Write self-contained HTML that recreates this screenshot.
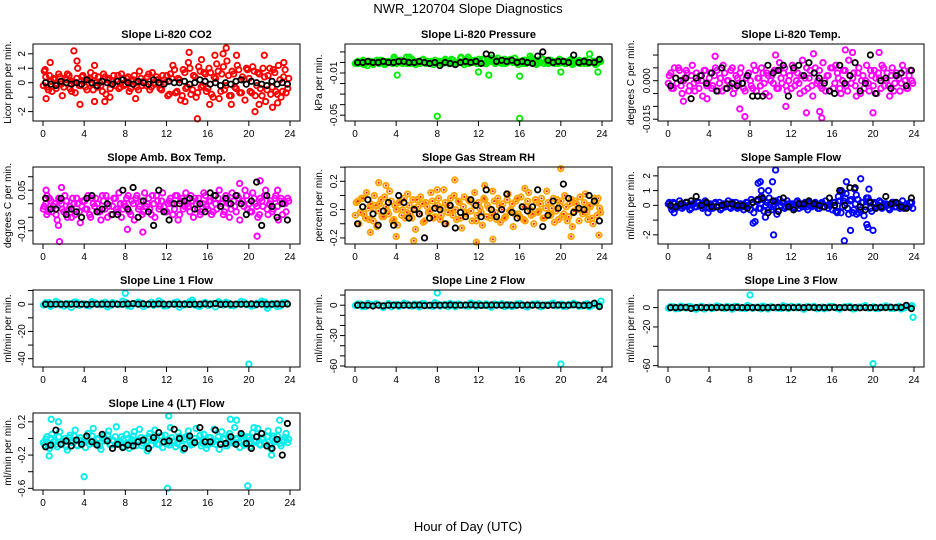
<!DOCTYPE html>
<html><head><meta charset="utf-8"><style>
html,body{margin:0;padding:0;background:#fff;}
svg{display:block;font-family:"Liberation Sans",sans-serif;}
</style></head><body>
<svg id="chart" width="936" height="540" viewBox="0 0 936 540" xmlns="http://www.w3.org/2000/svg">
<text x="468" y="13" font-size="13" text-anchor="middle">NWR_120704  Slope Diagnostics</text>
<text x="468" y="531" font-size="13" text-anchor="middle">Hour of Day (UTC)</text>
</svg>
<script>
// ---- data (scaled units, see scale per panel) ----
const xTicks = [0,4,8,12,16,20,24];
const co2Band = [8,-3,5,-6,2,-1,4,-9,3,6,-4,1,-7,10,-2,5,-3,2,7,-5,0,4,-2,6,-8,3,-1,5,2,-4,6,-2,3,-6,1,5,-3,8,-2,0,4,-5,7,-1,2,-4,5,0,-9,6,12,-7,3,-12,9,-4,14,-8,5,-10,11,-3,7,-6,10,-8,4,13,-11,6,-5,15,-9,8,-3,12,-7,4,-12,9,-6,11,-9,7,-4,10,-13,5,-8,9,-6,12,-10,4,-7,3];
const co2Band2 = [-2,4,-5,1,3,-4,6,-1,-3,2,5,-6,0,3,-2,4,1,-5,3,-1,5,-3,0,-6,4,2,-4,1,-2,5,-3,3,-1,4,-4,2,0,-5,3,1,-2,6,-3,0,4,-1,-5,2,5,-8,3,9,-6,2,-9,7,-3,10,-5,4,-7,8,-2,6,-4,7,-10,3,8,-6,11,-2,5,-9,6,-4,9,-7,2,10,3,-7,8,-2,6,-9,4,-5,10,-3,7,-8,2,-6,9,-4];
const co2Black = [0,-1,-2,1,0,-1,0,-1,2,0,-2,1,0,-1,1,2,0,-1,1,0,-1,2,0,-1,1,0,0,1,-1,0,2,1,-1,0,-2,0,-1,1,2,-1,1,0,-1,-2,1,-1,0,-1];
const co2OutX = [0.3,0.7,3,3.3,3.6,5,5,6,6.5,9,13.8,14.2,15,15.4,16.2,16.7,17.8,18.3,18.8,20.6,21.5,21,22.3,23.4,22.8,17.5,0.2];
const co2OutY = [-1.1,1.4,2.2,1.5,-1.5,1.2,-1.3,-1.3,-1,-1.1,-1.3,2.1,-2.5,1.6,-1.5,1.9,2.4,-1.5,1.9,-2,1.9,-1.5,-1.7,1.4,-1.4,2,0.9];
const presBand = [0,-1,1,-2,0,1,-1,0,2,-1,0,-2,1,0,-1,1,0,2,-1,0,1,-1,0,-2,1,0,3,-1,0,1,-2,0,1,-1,0,2,-1,3,0,-1,1,0,-2,3,1,0,2,-1,1,3,-1,0,2,1,-1,4,0,2,-1,1,3,0,1,-2,0,2,-1,1,4,0,-2,1,3,-1,0,2,1,-1,0,3,0,-1,1,2,-2,0,1,-1,0,2,-1,0,1,-2,0,1];
const presBand2 = [-1,1,0,2,-1,0,1,-2,0,1,2,0,-1,1,0,3,-1,0,2,1,-1,0,3,1,0,-1,2,0,1,-1,0,2,0,1,-1,3,1,0,2,-1,0,4,1,0,-1,2,0,1,3,0,2,-1,1,4,0,2,1,-1,3,0,2,1,4,0,1,-1,2,0,3,1,-1,2,0,3,1,-1,2,0,1,-1,2,0,-1,1,3,-1,0,2,1,-1,0,3,0,1,-1,2];
const presBlack = [0,0,1,0,0,1,0,0,1,1,0,0,1,0,-1,0,-3,0,-1,-2,0,1,0,1,-1,8,7,1,2,1,2,0,1,0,-1,6,10,2,0,1,1,0,7,0,1,0,0,3];
const presOutX = [3.8,4.1,5,5.3,8,16,24,12,13,16,20,22.8,17,23.6,10.3,11,1.2];
const presOutY = [5,-12,5,5,-51,-53,-58,-9,-12,-13,-9,8,6,-9,5,5,-3];
const tempBand = [2,-3,5,-1,4,-5,1,3,-2,6,-4,0,2,-6,4,-1,3,-2,5,-4,1,6,-3,0,4,-5,2,-1,5,-3,1,3,-2,6,-4,1,5,-1,3,-6,2,4,-3,7,-1,5,-4,2,6,-2,3,-5,8,1,-3,4,-6,5,0,-2,7,-4,2,5,-3,6,1,-5,4,-2,8,-1,3,-6,5,0,-3,6,-4,2,4,-5,1,6,-2,3,-6,5,-1,2,-4,6,0,-3,4,-1];
const tempBand2 = [-1,3,-3,1,5,-2,0,4,-4,2,-1,3,-3,0,4,-2,1,-3,2,4,-1,-4,3,0,-2,5,-3,1,3,-1,-4,2,0,-3,4,1,-2,3,-5,2,0,-1,4,-3,1,3,-2,0,-3,4,0,-1,2,-4,5,1,-2,3,-1,4,-3,0,2,-4,5,-1,3,-3,0,4,-4,2,1,-2,3,-5,2,0,-1,4,-2,1,3,-3,5,0,-2,2,-4,3,1,-1,4,-3,2,0];
const tempBlack = [-2,1,0,1,-7,1,2,-1,3,-4,5,-3,-1,-2,-1,2,-6,-6,-6,6,3,4,6,-6,5,6,2,7,3,1,-1,-4,-5,6,-1,2,7,-4,-1,10,-5,0,1,-3,2,3,-2,4];
const tempOutX = [7.5,15,14.8,20,7,13.5,17.3,18,20.6,4.6,10.5,14.2,1.5,3.8,11.5];
const tempOutY = [-14,-14.5,-12,-12.5,-11,-12.5,12,11,11,9.5,10,10.5,-8,-7,-10];
const ambBand = [-1,-4,2,-3,0,-6,1,-2,3,-5,-1,2,-4,0,-7,1,-2,3,-5,0,2,-3,-6,1,3,-1,-4,2,-2,4,-5,0,2,-3,1,-6,3,-1,-4,4,0,-2,3,-5,1,-1,4,-3,0,2,-4,3,-6,1,-2,4,-1,3,-5,0,2,-3,4,-1,1,-4,3,-2,5,0,-3,2,-5,4,-1,3,-6,1,5,-2,-3,4,0,-5,2,-1,5,-4,1,-2,3,-6,2,0,-3,1];
const ambBand2 = [-2,0,-3,1,-1,-4,2,0,-3,1,-2,-5,0,2,-3,-1,1,-2,-4,2,-1,0,-3,3,-2,-5,1,-1,2,-3,0,-2,-1,3,-4,0,2,-2,1,-3,-1,2,-4,0,3,-2,1,-1,-3,1,0,-2,3,-4,2,-1,0,-3,1,2,-2,-4,0,3,-2,1,-3,0,2,-1,-4,3,0,-2,1,-3,2,0,-1,3,0,-3,2,-1,-4,1,3,-2,0,-3,2,-1,1,-4,0,2];
const ambBlack = [2,-2,-2,2,-4,-2,-3,-5,2,3,-3,-2,0,-4,-4,5,-2,6,-5,1,-3,-8,5,-3,-6,0,0,1,2,-2,0,-3,4,3,-1,2,0,3,0,-4,1,8,-8,3,-1,-5,0,-6];
const ambOutX = [1.6,0.3,1.8,20.8,19.1,21.1,9.7,1.5,8.2,0.4,22.8];
const ambOutY = [-14,5,6,-12,7.5,8.5,-10.5,-8,-9.5,3,5];
const rhBand = [5,-10,8,-3,12,-7,2,10,-12,4,-5,9,-1,13,-8,3,-11,6,0,-6,11,-3,7,-14,2,9,-9,5,-2,12,-6,1,8,-4,14,-10,3,-1,10,-7,5,-13,9,-2,6,-8,12,-4,1,-11,7,3,-6,13,-2,8,-9,4,-5,11,0,-12,6,-3,9,-7,2,12,-4,-10,5,-1,8,-6,13,-3,1,-9,7,3,-5,10,-8,4,-12,6,0,9,-3,11,-7,2,-10,5,8,-2];
const rhBand2 = [-4,6,-2,8,-6,1,4,-8,3,-1,7,-5,2,-3,6,-7,0,5,-4,8,-2,3,-6,1,7,-3,4,-8,2,-1,6,-5,3,-7,1,5,-2,8,-4,0,6,-6,2,-3,7,-1,4,-8,5,-2,8,-5,1,-4,6,-7,3,0,-6,7,-1,4,-3,8,-5,2,-8,6,0,-3,7,-2,4,-6,1,5,-4,8,-1,-7,6,-3,2,-5,7,-1,4,-8,0,5,-2,3,-6,8,-4,1];
const rhBlack = [-10,2,7,-3,-11,-1,5,-11,10,5,-6,0,-3,-20,-6,1,0,-10,3,-13,-2,-5,7,3,-5,14,0,-5,0,11,-2,-6,2,-1,2,14,-12,-4,6,1,18,8,-2,1,0,10,6,-8];
const rhOutX = [20,11.8,5.7,13.4,9.7,2.3,4,1.5,21,23.7,3,8,12.6,16.5];
const rhOutY = [29,-23,-22,-21,21,19,-19,-16,-19,-18,17,14,17,15];
const sampBand = [2,-3,1,-1,3,-2,0,2,-3,1,-1,2,0,-2,3,-1,1,-2,2,0,-3,1,-1,3,-2,0,2,-1,1,-3,2,0,4,-5,3,-2,6,-4,2,5,-3,1,-6,4,2,-2,3,-1,1,-2,3,0,-1,2,-3,1,0,2,-2,1,-1,3,-2,0,2,-4,6,-5,3,8,-6,4,-3,7,-5,2,-7,5,3,-4,2,-1,3,-2,1,0,-3,2,-1,1,-2,3,0,-1,2,-2];
const sampBand2 = [1,-1,2,-2,0,1,-1,2,0,-2,1,-1,2,0,-1,1,-2,0,1,-1,2,-2,0,1,-1,2,0,-2,1,-1,0,2,-3,2,-1,3,-2,4,0,-3,2,-1,3,-4,0,2,-1,1,0,-1,2,-2,1,0,-1,2,-1,0,1,-2,2,-1,0,1,-3,2,-4,3,-1,5,-2,3,-5,1,4,-3,2,-1,5,-2,1,-2,0,2,-1,1,-2,0,2,-1,1,0,-2,1,-1,2];
const sampBlack = [0,-1,1,2,3,6,0,2,-1,-1,0,1,1,0,0,-2,2,4,5,-5,3,-4,5,-1,-3,1,1,3,1,0,-1,5,0,10,0,12,12,-1,-3,2,-2,-1,6,1,2,-1,-2,5];
const sampOutX = [8.3,8.5,8.8,9,9.1,9.8,10.2,10.5,10.3,9.5,16.9,17.2,17.4,17.8,18.2,18.8,19.4,19.5,19.6,20,18.4,16.5,17,0.6,3.9];
const sampOutY = [-1.2,-1.1,1.5,1.6,1,1,1.6,2.4,-2,-0.8,1,-2.4,1.6,-1.7,1.1,1.8,-1.3,-1.5,1.1,-1.7,-0.6,-0.5,0.9,-0.5,-0.5];
const l1Band = [5,-8,10,-3,2,-12,7,0,-5,9,-1,4,-10,6,-2,11,-6,3,8,-9,1,-4,12,-7,0,5,-11,2,9,-3,-8,6,1,-10,4,7,-5,0,10,-2,-7,3,11,-6,2,-9,5,0];
const l1Band2 = [-3,6,-1,4,-7,2,8,-4,1,-6,5,-2,7,-5,3,-1,6,-8,2,4,-3,7,-1,5,-6,1,8,-4,-2,6,-7,3,-5,2,9,-3,4,-6,1,7,-2,-5,3,8,-4,1,-7,6];
const l1Black = [0,0,0,0,0,0,0,0,-1,0,0,0,0,0,0,0,1,2,0,1,0,0,1,0,0,0,0,0,-1,0,0,1,0,2,-1,0,0,0,0,0,1,-1,0,0,0,1,0,1];
const l1OutX = [8,20,14.5,21.8];
const l1OutY = [8,-44,3,-3];
const l2Band = [6,-7,9,-2,3,-11,8,1,-6,10,-2,5,-9,7,-1,12,-5,4,9,-8,2,-3,11,-6,1,6,-10,3,8,-4,-7,7,2,-9,5,8,-4,1,11,-1,-6,4,10,-5,3,-8,6,1];
const l2Band2 = [-2,5,-6,3,7,-4,1,-8,4,-1,6,-5,2,8,-3,-6,5,1,-7,3,6,-2,-5,4,8,-1,-4,6,2,-7,3,-3,7,-5,1,4,-8,2,6,-3,5,-6,1,3,-4,7,-2,4];
const l2Black = [0,0,0,-4,0,-3,0,0,0,0,0,0,1,-2,0,0,0,0,1,0,0,1,2,0,-1,0,1,0,0,1,0,0,0,1,0,0,0,-1,0,1,0,0,2,0,-1,0,10,-7];
const l2OutX = [8,20,23.9];
const l2OutY = [12,-58,4];
const l3Band = [5,-6,8,-2,4,-9,7,0,-5,9,-1,6,-8,6,-2,11,-4,3,8,-7,2,-3,10,-5,0,6,-9,3,7,-3,-6,6,1,-8,4,7,-5,2,10,-1,-5,3,9,-4,2,-7,5,0];
const l3Band2 = [-3,4,-5,2,6,-2,1,-7,3,-1,5,-4,2,7,-3,-5,4,1,-6,3,5,-2,-4,4,7,-1,-3,5,2,-6,3,-2,6,-4,1,4,-7,2,5,-3,4,-5,1,3,-4,6,-2,3];
const l3Black = [0,0,0,1,-4,0,0,0,0,0,0,0,0,1,0,0,0,0,-1,0,0,1,0,0,0,0,0,1,0,0,0,0,1,0,0,0,0,-1,0,0,0,0,0,2,0,1,12,-5];
const l3OutX = [8,20,23.9,23.8];
const l3OutY = [13,-58,-10,2];
const l4Band = [-8,2,-12,5,-3,-10,8,-6,0,-14,4,-2,10,-9,1,-5,-11,6,-4,12,-7,0,-13,3,-1,9,-8,-3,14,-6,2,-10,5,-12,-1,8,-4,11,-9,0,-15,6,-2,10,-7,3,-11,4,-6,13,-3,-10,7,-1,-14,2,9,-8,-4,12,-2,-9,5,-12,1,-6,11,-3,-13,8,0,-9,6,-5,13,-1,-11,4,-7,2,-10,7,-4,12,-8,1,-6,9,-12,3,-2,10,-9,-4,6,-1];
const l4Band2 = [-5,-1,-9,0,-4,-7,2,-6,-3,-10,1,-5,3,-8,-2,-6,-4,1,-7,3,-5,-1,-9,0,-3,4,-8,-2,2,-6,-4,-1,-7,0,-5,3,-9,-2,1,-6,-4,2,-8,-3,0,-7,3,-5,-2,-8,1,-4,-6,2,-9,-1,3,-5,-7,0,-3,4,-6,-2,-8,1,-4,-7,2,-5,-1,-9,3,-3,-6,0,-4,2,-8,-2,1,-6,-3,3,-7,-1,-5,2,-8,0,-4,3,-6,-2,1,-5];
const l4Black = [-10,-8,10,-7,-3,-9,-2,-7,3,-4,-8,5,-3,-12,-7,-11,-8,-9,-4,-2,-12,1,7,-4,-3,11,0,-12,3,-5,13,-4,-4,10,-7,-6,2,-7,6,-6,-12,2,6,-9,-12,-1,-20,18];
const l4OutX = [4,12.1,19.9,0.6,22.2,12.2,0.8,18.2,18.8,23,1.5,20.5];
const l4OutY = [-0.46,-0.6,-0.57,-0.21,-0.2,0.27,0.23,0.23,0.22,0.22,0.2,0.13];

// ---- layout ----
const cols = [{l:33,r:300},{l:345,r:612},{l:658,r:924}];
const colYlab = [8,319,631];
const rows = [44,167,290,413];
const H = 77;

const panels = [
 {name:'co2',title:'Slope Li-820 CO2',ylab:'Licor ppm per min.',c:0,r:0,dom:[-2.65,2.68],ticks:[2,1,0,-1,-2],labels:['2','1','0','','-2'],band:co2Band,band2:co2Band2,black:co2Black,ox:co2OutX,oy:co2OutY,s:0.1,os:1,col:'#ff0000'},
 {name:'pressure',title:'Slope Li-820 Pressure',ylab:'kPa per min.',c:1,r:0,dom:[-0.0555,0.0175],ticks:[0.01,0,-0.01,-0.02,-0.03,-0.04,-0.05],labels:['','','-0.01','','','','-0.05'],band:presBand,band2:presBand2,black:presBlack,ox:presOutX,oy:presOutY,s:0.001,os:0.001,col:'#00ee00'},
 {name:'temp',title:'Slope Li-820 Temp.',ylab:'degrees C per min.',c:2,r:0,dom:[-0.0157,0.0143],ticks:[0.01,0.005,0,-0.005,-0.01,-0.015],labels:['','','0.000','','','-0.015'],band:tempBand,band2:tempBand2,black:tempBlack,ox:tempOutX,oy:tempOutY,s:0.001,os:0.001,col:'#ff00ff'},
 {name:'amb-box-temp',title:'Slope Amb. Box Temp.',ylab:'degrees C per min.',c:0,r:1,dom:[-0.149,0.136],ticks:[0.1,0.05,0,-0.05,-0.1],labels:['','0.05','','','-0.10'],band:ambBand,band2:ambBand2,black:ambBlack,ox:ambOutX,oy:ambOutY,s:0.01,os:0.01,col:'#ff00ff'},
 {name:'gas-stream-rh',title:'Slope Gas Stream RH',ylab:'percent per min.',c:1,r:1,dom:[-0.243,0.301],ticks:[0.3,0.2,0.1,0,-0.1,-0.2],labels:['','0.2','','0.0','','-0.2'],band:rhBand,band2:rhBand2,black:rhBlack,ox:rhOutX,oy:rhOutY,s:0.01,os:0.01,col:'#ffa500',dot:'#ff2000'},
 {name:'sample-flow',title:'Slope Sample Flow',ylab:'ml/min per min.',c:2,r:1,dom:[-2.62,2.6],ticks:[2,1,0,-1,-2],labels:['2','1','0','','-2'],band:sampBand,band2:sampBand2,black:sampBlack,ox:sampOutX,oy:sampOutY,s:0.1,os:1,col:'#0000ff'},
 {name:'line1-flow',title:'Slope Line 1 Flow',ylab:'ml/min per min.',c:0,r:2,dom:[-46.1,10.4],ticks:[10,0,-10,-20,-30,-40],labels:['','0','','-20','','-40'],band:l1Band,band2:l1Band2,black:l1Black,ox:l1OutX,oy:l1OutY,s:0.2,os:1,col:'#00eeee'},
 {name:'line2-flow',title:'Slope Line 2 Flow',ylab:'ml/min per min.',c:1,r:2,dom:[-61,15],ticks:[10,0,-10,-20,-30,-40,-50,-60],labels:['','0','','','-30','','','-60'],band:l2Band,band2:l2Band2,black:l2Black,ox:l2OutX,oy:l2OutY,s:0.2,os:1,col:'#00eeee'},
 {name:'line3-flow',title:'Slope Line 3 Flow',ylab:'ml/min per min.',c:2,r:2,dom:[-61.4,18.2],ticks:[0,-20,-40,-60],labels:['0','-20','','-60'],band:l3Band,band2:l3Band2,black:l3Black,ox:l3OutX,oy:l3OutY,s:0.2,os:1,col:'#00eeee'},
 {name:'line4-flow',title:'Slope Line 4 (LT) Flow',ylab:'ml/min per min.',c:0,r:3,dom:[-0.62,0.306],ticks:[0.2,0,-0.2,-0.4,-0.6],labels:['0.2','','-0.2','','-0.6'],band:l4Band,band2:l4Band2,black:l4Black,ox:l4OutX,oy:l4OutY,s:0.01,os:1,col:'#00eeee'}
];

const NS = 'http://www.w3.org/2000/svg';
const svg = document.getElementById('chart');
function mk(tag, attrs, parent){
  const e = document.createElementNS(NS, tag);
  for (const k in attrs) e.setAttribute(k, attrs[k]);
  (parent||svg).appendChild(e);
  return e;
}

panels.forEach(p => {
  const L = cols[p.c].l, R = cols[p.c].r, T = rows[p.r], B = T + H;
  const x0 = L + 10, x1 = R - 10;
  const xs = h => x0 + (h/24)*(x1-x0);
  const ys = v => B - (v - p.dom[0])/(p.dom[1]-p.dom[0])*H;
  const g = mk('g', {});
  
  

  const t = mk('text', {x:(L+R)/2, y:T-6, 'font-size':11, 'font-weight':'bold', 'text-anchor':'middle'}, g);
  t.textContent = p.title;
  
  

  const yl = mk('text', {x:0, y:0, 'font-size':10, 'text-anchor':'middle', transform:`translate(${colYlab[p.c]+3},${(T+B)/2}) rotate(-90)`}, g);
  yl.textContent = p.ylab;
  
  

  const pts = mk('g', {}, g);
  
  
  function dot(h, v, color, cls){
    const y = ys(v);
    if (y < T-2 || y > B+2) return;
    const c = mk('circle', {cx:xs(h).toFixed(1), cy:y.toFixed(1), r:2.7, fill:'none', stroke:color, 'stroke-width':1.9}, pts);
    
    
    if (p.dot) {
      const d = mk('circle', {cx:xs(h).toFixed(1), cy:y.toFixed(1), r:1.1, fill:p.dot}, pts);
      
      
    }
  }
  p.band.forEach((v,i) => dot((i+0.5)*24/p.band.length, v*p.s, p.col, p.name+'-point'));
  p.band2.forEach((v,i) => dot((i+0.1)*24/p.band2.length, v*p.s, p.col, p.name+'-point'));
  p.ox.forEach((h,i) => dot(h, p.oy[i]*p.os, p.col, p.name+'-outlier'));
  p.black.forEach((v,i) => {
    const y = ys(v*p.s); if (y<T-2||y>B+2) return;
    const c = mk('circle', {cx:xs((i+0.5)*24/p.black.length).toFixed(1), cy:y.toFixed(1), r:2.7, fill:'none', stroke:'#000', 'stroke-width':1.8}, pts);
    
    
  });

  const box = mk('rect', {x:L, y:T, width:R-L, height:H, fill:'none', stroke:'#000', 'stroke-width':1}, g);
  
  

  xTicks.forEach(h => {
    mk('line', {x1:xs(h), x2:xs(h), y1:B, y2:B+5, stroke:'#000'}, g);
    const tl = mk('text', {x:xs(h), y:B+16, 'font-size':10, 'text-anchor':'middle'}, g);
    tl.textContent = h;
    
    
  });
  p.ticks.forEach((v,i) => {
    const y = ys(v);
    if (y < T-1 || y > B+1) return;
    mk('line', {x1:L-5, x2:L, y1:y, y2:y, stroke:'#000'}, g);
    if (p.labels[i]) {
      const tl = mk('text', {x:0, y:0, 'font-size':10, 'text-anchor':'middle', transform:`translate(${L-8},${y}) rotate(-90)`}, g);
      tl.textContent = p.labels[i];
      
      
    }
  });
});
</script>
</body></html>
